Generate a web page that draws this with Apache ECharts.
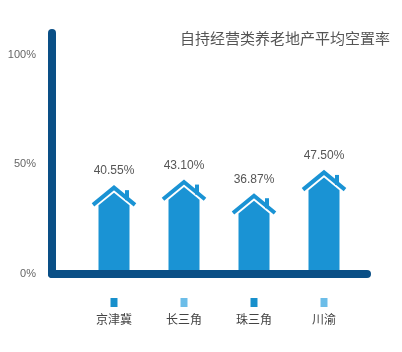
<!DOCTYPE html>
<html lang="zh-CN">
<head>
    <meta charset="UTF-8">
    <title>ECharts</title>
    <script type="text/javascript" src="https://cdn.jsdelivr.net/npm/echarts@6/dist/echarts.min.js"></script>
    <style>
        html, body { margin: 0; padding: 0; background: #fff; }
    </style>
</head>
<body>
    <div id="main" style="width: 402px;height:352px;"></div>

    <script type="text/javascript">

    // data
    var categories = ['京津冀', '长三角', '珠三角', '川渝'];
    var vacancyRate = [40.55, 43.10, 36.87, 47.50];
    var yTicks = [0, 50, 100];

    var houseBlue = '#1a93d4';
    var axisBlue = '#0a4f86';
    var legendColors = ['#1890cc', '#6cbde8'];
    var font = 'Liberation Sans, Noto Sans CJK SC, sans-serif';

    // house shaped bar: chevron roof on top of a pentagon body
    function renderHouse(params, api) {
        var top = api.coord([api.value(0), api.value(1)]);
        var base = api.coord([api.value(0), 0]);
        var cx = top[0], ty = top[1], by = base[1];
        var k = 0.82;            // roof slope
        var rw = 21, hw = 15.5;  // roof half width, body half width
        var bodyPeak = ty + 7.5;
        var shoulder = bodyPeak + hw * k;
        return {
            type: 'group',
            children: [
                {
                    type: 'polygon',
                    shape: {points: [[cx - hw, by], [cx - hw, shoulder], [cx, bodyPeak], [cx + hw, shoulder], [cx + hw, by]]},
                    style: {fill: houseBlue}
                },
                {
                    type: 'rect',
                    shape: {x: cx + 11, y: ty + 5, width: 4, height: 10},
                    style: {fill: houseBlue}
                },
                {
                    type: 'polyline',
                    shape: {points: [[cx - rw, ty + 2.5 + rw * k], [cx, ty + 2.5], [cx + rw, ty + 2.5 + rw * k]]},
                    style: {stroke: houseBlue, lineWidth: 4, fill: null, lineJoin: 'miter'}
                },
                {
                    type: 'text',
                    x: cx,
                    y: ty - 8,
                    style: {
                        text: api.value(1).toFixed(2) + '%',
                        align: 'center',
                        verticalAlign: 'bottom',
                        fill: '#555',
                        fontSize: 12,
                        fontFamily: font
                    }
                }
            ]
        };
    }

    var myChart = echarts.init(document.getElementById('main'));

    var option = {
        backgroundColor: '#fff',
        animation: false,
        title: {
            text: '自持经营类养老地产平均空置率',
            left: 175,
            top: 27,
            textStyle: {
                color: '#555',
                fontSize: 15,
                fontWeight: 'normal',
                fontFamily: font
            }
        },
        grid: [
            {left: 52, right: 35, top: 33, bottom: 78},    // axis frame
            {left: 79, right: 43, top: 33, bottom: 78}     // houses
        ],
        xAxis: [
            {
                type: 'value',
                gridIndex: 0,
                min: 0,
                max: 1,
                z: 5,
                axisLine: {show: true, lineStyle: {color: axisBlue, width: 8, cap: 'round'}},
                axisTick: {show: false},
                axisLabel: {show: false},
                splitLine: {show: false}
            },
            {
                type: 'category',
                gridIndex: 1,
                data: categories,
                axisLine: {show: false},
                axisTick: {show: false},
                splitLine: {show: false},
                axisLabel: {
                    margin: 24,
                    interval: 0,
                    formatter: function (v, i) {
                        return '{s' + (i % 2) + '| }\n{n|' + v + '}';
                    },
                    rich: {
                        s0: {width: 7, height: 9, lineHeight: 9, backgroundColor: legendColors[0]},
                        s1: {width: 7, height: 9, lineHeight: 9, backgroundColor: legendColors[1]},
                        n: {fontSize: 12, lineHeight: 27, color: '#444', fontFamily: font}
                    }
                }
            }
        ],
        yAxis: [
            {
                type: 'value',
                gridIndex: 0,
                min: 0,
                max: 110,
                interval: 50,
                z: 5,
                axisLine: {show: true, lineStyle: {color: axisBlue, width: 8, cap: 'round'}},
                axisTick: {show: false},
                splitLine: {show: false},
                axisLabel: {
                    margin: 16,
                    color: '#666',
                    fontSize: 11,
                    fontFamily: font,
                    formatter: function (v) {
                        return yTicks.indexOf(v) !== -1 ? v + '%' : '';
                    }
                }
            },
            {
                type: 'value',
                gridIndex: 1,
                min: 0,
                max: 110,
                show: false
            }
        ],
        series: [
            {
                type: 'custom',
                xAxisIndex: 1,
                yAxisIndex: 1,
                renderItem: renderHouse,
                data: vacancyRate.map(function (v, i) { return [i, v]; })
            }
        ]
    };

    myChart.setOption(option);
    </script>
</body>
</html>
